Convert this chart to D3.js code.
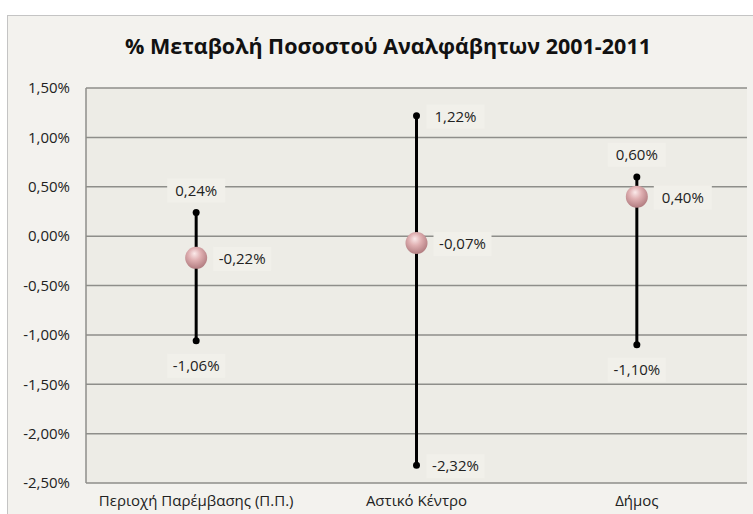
<!DOCTYPE html>
<html>
<head>
<meta charset="utf-8">
<script src="https://cdn.jsdelivr.net/npm/d3@7"></script>
<style>
  body { margin: 0; background: #fff; }
  svg { display: block; font-family: "Open Sans", sans-serif; }
</style>
</head>
<body>
<svg id="chart"></svg>
<script>
const width = 753;
const height = 514;

const categories = ["Περιοχή Παρέμβασης (Π.Π.)", "Αστικό Κέντρο", "Δήμος"];
const highValues = [0.24, 1.22, 0.60];
const lowValues = [-1.06, -2.32, -1.10];
const midValues = [-0.22, -0.07, 0.40];
const tickValues = [1.5, 1.0, 0.5, 0.0, -0.5, -1.0, -1.5, -2.0, -2.5];
// where each label sits: above / below / right of the point
const highPos = ["top", "right", "top"];
const lowPos = ["bottom", "right", "bottom"];

const fmt = v => d3.format(".2f")(v).replace(".", ",").replace("−", "-") + "%";

const plot = { left: 86, right: 747, top: 88, bottom: 483 };

const svg = d3.select("#chart")
              .attr("width", width)
              .attr("height", height);

const defs = svg.append("defs");
const grad = defs.append("radialGradient")
                 .attr("id", "ball")
                 .attr("cx", "45%").attr("cy", "38%").attr("r", "62%")
                 .attr("fx", "42%").attr("fy", "30%");
grad.append("stop").attr("offset", "0%").attr("stop-color", "#fbeaea");
grad.append("stop").attr("offset", "45%").attr("stop-color", "#e0b0b2");
grad.append("stop").attr("offset", "100%").attr("stop-color", "#b27d81");

// outer chart area
svg.append("rect")
   .attr("x", 7.5).attr("y", 15.5)
   .attr("width", width).attr("height", height)
   .attr("fill", "#f3f2ee")
   .attr("stroke", "#c4c4c4");

svg.append("rect")
   .attr("x", plot.left).attr("y", plot.top)
   .attr("width", plot.right - plot.left).attr("height", plot.bottom - plot.top)
   .attr("fill", "#edece6");

svg.append("text")
   .attr("x", 388).attr("y", 54)
   .attr("text-anchor", "middle")
   .attr("font-size", 21.5)
   .attr("font-weight", "bold")
   .attr("fill", "#111")
   .text("% Μεταβολή Ποσοστού Αναλφάβητων 2001-2011");

const xScale = d3.scaleBand()
                 .domain(categories)
                 .range([plot.left, plot.right]);
const yScale = d3.scaleLinear()
                 .domain([-2.5, 1.5])
                 .range([plot.bottom, plot.top]);

// gridlines
svg.append("g")
   .selectAll("line")
   .data(tickValues)
   .enter()
   .append("line")
   .attr("x1", plot.left).attr("x2", plot.right)
   .attr("y1", d => yScale(d)).attr("y2", d => yScale(d))
   .attr("stroke", "#8e8e8a")
   .attr("stroke-width", 1.5);

svg.append("line")
   .attr("x1", plot.left).attr("x2", plot.left)
   .attr("y1", plot.top).attr("y2", plot.bottom)
   .attr("stroke", "#8e8e8a")
   .attr("stroke-width", 1.5);

const yAxis = d3.axisLeft(yScale)
                .tickValues(tickValues)
                .tickFormat(fmt)
                .tickSize(0)
                .tickPadding(16);

svg.append("g")
   .attr("id", "y-axis")
   .attr("transform", `translate(${plot.left}, 0)`)
   .call(yAxis)
   .call(g => g.select(".domain").remove())
   .selectAll("text")
   .attr("font-size", 15)
   .attr("font-family", "Open Sans, sans-serif")
   .attr("fill", "#222");

const xAxis = d3.axisBottom(xScale).tickSize(0).tickPadding(12);

svg.append("g")
   .attr("id", "x-axis")
   .attr("transform", `translate(0, ${plot.bottom})`)
   .call(xAxis)
   .call(g => g.select(".domain").remove())
   .selectAll("text")
   .attr("font-size", 15)
   .attr("font-family", "Open Sans, sans-serif")
   .attr("fill", "#222");

const cx = d => xScale(d) + xScale.bandwidth() / 2;

const rows = categories.map((c, i) => ({
    c, hi: highValues[i], lo: lowValues[i], mid: midValues[i],
    hiPos: highPos[i], loPos: lowPos[i]
}));

// high-low lines
svg.selectAll(".hl")
   .data(rows)
   .enter()
   .append("line")
   .attr("class", "hl")
   .attr("x1", d => cx(d.c)).attr("x2", d => cx(d.c))
   .attr("y1", d => yScale(d.hi)).attr("y2", d => yScale(d.lo))
   .attr("stroke", "#000")
   .attr("stroke-width", 3);

const ends = rows.flatMap(d => [
    { c: d.c, v: d.hi, pos: d.hiPos },
    { c: d.c, v: d.lo, pos: d.loPos }
]);

svg.selectAll(".end")
   .data(ends)
   .enter()
   .append("circle")
   .attr("class", "end")
   .attr("cx", d => cx(d.c))
   .attr("cy", d => yScale(d.v))
   .attr("r", 3.5)
   .attr("fill", "#000");

svg.selectAll(".mid")
   .data(rows)
   .enter()
   .append("circle")
   .attr("class", "mid")
   .attr("cx", d => cx(d.c))
   .attr("cy", d => yScale(d.mid))
   .attr("r", 11)
   .attr("fill", "url(#ball)");

const labels = ends.concat(rows.map(d => ({ c: d.c, v: d.mid, pos: "right", mid: true })));

const lab = svg.selectAll(".lab")
   .data(labels)
   .enter()
   .append("g")
   .attr("class", "lab")
   .attr("transform", d => {
       const x = cx(d.c), y = yScale(d.v);
       if (d.pos === "top") return `translate(${x}, ${y - 22})`;
       if (d.pos === "bottom") return `translate(${x}, ${y + 25})`;
       return `translate(${x + (d.mid ? 46 : 39)}, ${y + 1})`;
   });

lab.append("rect")
   .attr("x", -29)
   .attr("y", -12)
   .attr("width", 58)
   .attr("height", 24)
   .attr("fill", "#f1f0ea");

lab.append("text")
   .attr("text-anchor", "middle")
   .attr("dy", "0.35em")
   .attr("font-size", 15)
   .attr("fill", "#222")
   .text(d => fmt(d.v));
</script>
</body>
</html>
